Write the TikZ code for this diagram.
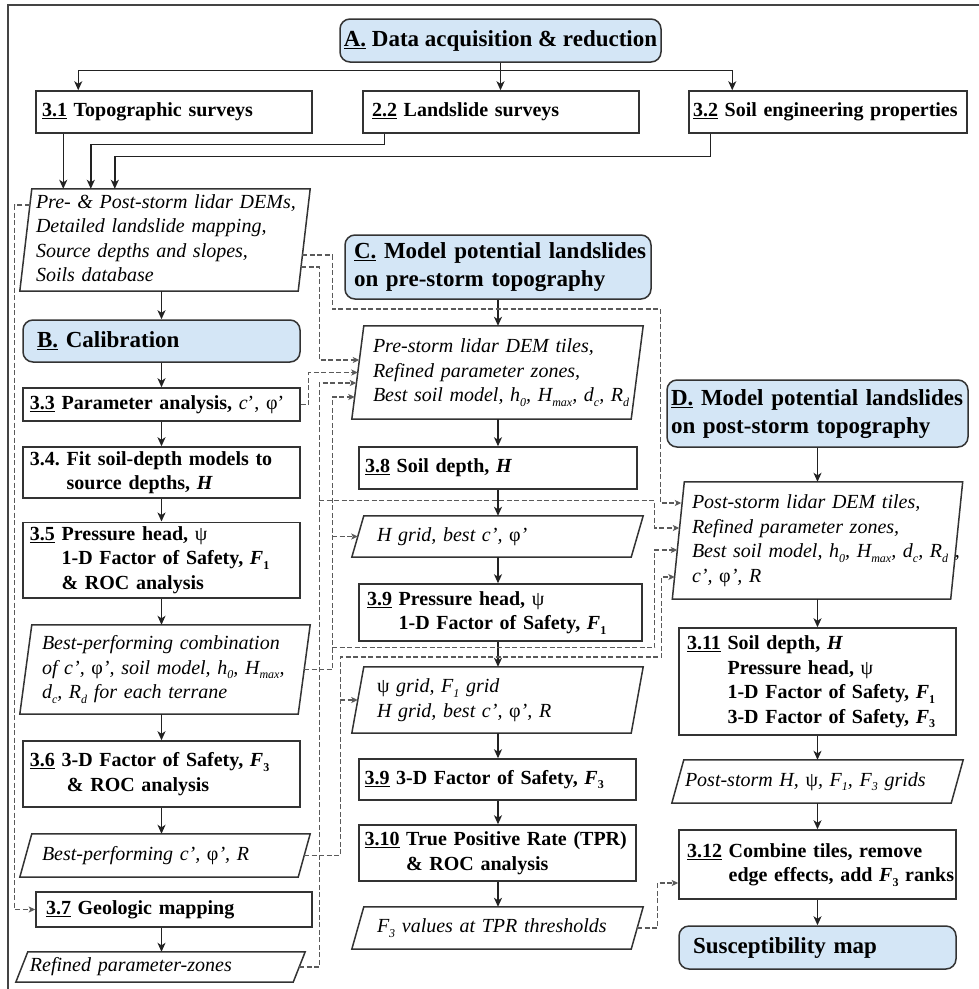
\documentclass[tikz,border=0pt]{standalone}
\usepackage{fontspec}
\setmainfont{Liberation Serif}
\usepackage{tikz}
\usetikzlibrary{positioning,arrows.meta,calc}
\definecolor{lsLine}{HTML}{333333}
\definecolor{lsArrow}{HTML}{222222}
\definecolor{lsDash}{HTML}{5A5A5A}
\definecolor{lsBlueL}{HTML}{D4E6F6}
\definecolor{lsFrame}{HTML}{444444}
\newcommand{\lsbody}{\fontsize{20}{24.5}\selectfont}
\newcommand{\lshead}{\fontsize{23}{28}\selectfont}
\newcommand{\lsrows}[1]{\begin{tabular}{@{}l@{}}#1\end{tabular}}
\newcommand{\lo}[1]{\raisebox{-4.5pt}{\fontsize{12}{12}\selectfont #1}}
\frenchspacing
\tikzset{
  ls-box/.style={
    draw=lsLine, line width=1.5pt, fill=white, font=\lsbody\bfseries,
    align=left, inner xsep=2pt, inner ysep=1pt
  },
  ls-head/.style={ls-box, rounded corners=10pt, fill=lsBlueL, font=\lshead\bfseries},
  ls-io/.style={font=\lsbody\itshape, align=left, inner xsep=2pt, inner ysep=1pt},
  ls-edge/.style={draw=lsLine, line width=1.5pt, line join=miter},
  ls-flow/.style={-{Stealth[length=9pt,width=8pt,inset=2.5pt]}, line width=1.4pt, draw=lsArrow},
  ls-feed/.style={-{Stealth[length=6.5pt,width=6pt,inset=1.5pt]}, line width=1.1pt,
    draw=lsDash, dash pattern=on 5pt off 2.5pt},
  ls-frame/.style={draw=lsFrame, line width=1.5pt}
}
\begin{document}
\begin{tikzpicture}[x=1pt, y=-1pt]
\useasboundingbox (0,0) rectangle (979,989);
\draw[ls-frame] (8,5) rectangle (995,1005);

\node[ls-head, minimum width=321pt, minimum height=43pt, align=center] (A) at (500.5,40.5)
  {\underline{A.} Data acquisition \& reduction};
\node[ls-box, minimum width=276pt, minimum height=42pt, text width=264pt] (s31) at (174,112)
  {\underline{3.1} Topographic surveys};
\node[ls-box, minimum width=276pt, minimum height=42pt, text width=258pt] (s22) at (501,112)
  {\underline{2.2} Landslide surveys};
\node[ls-box, minimum width=278pt, minimum height=42pt, text width=270pt] (s32) at (828,112)
  {\lsrows{\underline{3.2} Soil engineering properties}};

\node[ls-io, minimum width=278pt, minimum height=102pt, text width=258pt] (data) at (165,240)
  {\lsrows{Pre- \& Post-storm lidar DEMs,\\ Detailed landslide mapping,\\
  Source depths and slopes,\\ Soils database}};
\node[ls-head, minimum width=277pt, minimum height=42pt, text width=249pt] (B) at (161.5,341)
  {\underline{B.} Calibration};
\node[ls-box, minimum width=277pt, minimum height=33pt, text width=263pt] (s33) at (161.5,404.5)
  {\lsrows{\underline{3.3} Parameter analysis, \textmd{\textit{c}’, φ’}}};
\node[ls-box, minimum width=277pt, minimum height=51pt, text width=263pt] (s34) at (161.5,472.5)
  {\lsrows{3.4. Fit soil-depth models to\\ \hphantom{3.4. }source depths, \textit{H}}};
\node[ls-box, minimum width=277pt, minimum height=74pt, text width=263pt] (s35) at (161.5,560)
  {\lsrows{\underline{3.5} Pressure head, \textmd{ψ}\\
  \hphantom{3.5 }1-D Factor of Safety, \textit{F}\lo{1}\\
  \hphantom{3.5 }\& ROC analysis}};
\node[ls-io, minimum width=278pt, minimum height=89pt, text width=246pt] (combo) at (165,669.5)
  {\lsrows{Best-performing combination\\ of c’, \textup{φ}’, soil model, h\lo{0}, H\lo{max},\\
  d\lo{c}, R\lo{d} for each terrane}};
\node[ls-box, minimum width=277pt, minimum height=66pt, text width=263pt] (s36) at (161.5,774)
  {\lsrows{\underline{3.6} 3-D Factor of Safety, \textit{F}\lo{3}\\ \hspace*{37pt}\& ROC analysis}};
\node[ls-io, minimum width=278pt, minimum height=43pt, text width=246pt] (bestc) at (165,855.5)
  {Best-performing c’, \textup{φ}’, R};
\node[ls-box, minimum width=276pt, minimum height=35pt, text width=256pt] (s37) at (174,909.5)
  {\underline{3.7} Geologic mapping};
\node[ls-io, minimum width=277pt, minimum height=30pt, text width=261pt] (zones) at (160.5,967)
  {Refined parameter-zones};

\node[ls-head, minimum width=306pt, minimum height=64pt, text width=288pt] (C) at (498,267)
  {\lsrows{\underline{C.} Model potential landslides\\ on pre-storm topography}};
\node[ls-io, minimum width=279pt, minimum height=93pt, text width=249pt] (prein) at (497.5,372.5)
  {\lsrows{Pre-storm lidar DEM tiles,\\ Refined parameter zones,\\
  Best soil model, h\lo{0}, H\lo{max}, d\lo{c}, R\lo{d}}};
\node[ls-box, minimum width=278pt, minimum height=42pt, text width=266pt] (s38) at (498,468)
  {\underline{3.8} Soil depth, \textit{H}};
\node[ls-io, minimum width=279pt, minimum height=41pt, text width=241pt] (hgrid) at (497.5,536.5)
  {H grid, best c’, \textup{φ}’};
\node[ls-box, minimum width=283pt, minimum height=57pt, text width=267pt] (s39) at (500.5,612.5)
  {\lsrows{\underline{3.9} Pressure head, \textmd{ψ}\\ \hphantom{3.9 }1-D Factor of Safety, \textit{F}\lo{1}}};
\node[ls-io, minimum width=279pt, minimum height=66pt, text width=241pt] (psigrid) at (497.5,700)
  {\lsrows{\textup{ψ} grid, F\lo{1} grid\\ H grid, best c’, \textup{φ}’, R}};
\node[ls-box, minimum width=277pt, minimum height=41pt, text width=266pt] (s39b) at (497.5,779.5)
  {\underline{3.9} 3-D Factor of Safety, \textit{F}\lo{3}};
\node[ls-box, minimum width=277pt, minimum height=56pt, text width=266pt] (s310) at (497.5,853)
  {\lsrows{\underline{3.10} True Positive Rate (TPR)\\ \hphantom{3.10 }\& ROC analysis}};
\node[ls-io, minimum width=279pt, minimum height=42pt, text width=241pt] (f3val) at (497.5,928)
  {F\lo{3} values at TPR thresholds};

\node[ls-head, minimum width=301pt, minimum height=67pt, text width=293pt] (D) at (817.5,413.5)
  {\lsrows{\underline{D.} Model potential landslides\\ on post-storm topography}};
\node[ls-io, minimum width=278pt, minimum height=117pt, text width=251pt] (postin) at (817.5,540.5)
  {\lsrows{Post-storm lidar DEM tiles,\\ Refined parameter zones,\\
  Best soil model, h\lo{0}, H\lo{max}, d\lo{c}, R\lo{d} ,\\
  c’, \textup{φ}’, R}};
\node[ls-box, minimum width=277pt, minimum height=107pt, text width=261pt] (s311) at (817.5,681.5)
  {\lsrows{\underline{3.11} Soil depth, \textit{H}\\ \hphantom{3.11 }Pressure head, \textmd{ψ}\\
  \hphantom{3.11 }1-D Factor of Safety, \textit{F}\lo{1}\\
  \hphantom{3.11 }3-D Factor of Safety, \textit{F}\lo{3}}};
\node[ls-io, minimum width=279pt, minimum height=43pt, text width=265pt] (grids) at (817.5,781.5)
  {\lsrows{Post-storm H, \textup{ψ}, F\lo{1}, F\lo{3} grids}};
\node[ls-box, minimum width=277pt, minimum height=69pt, text width=261pt] (s312) at (817.5,864.5)
  {\lsrows{\underline{3.12} Combine tiles, remove\\ \hphantom{3.12 }edge effects, add \textit{F}\lo{3} ranks}};
\node[ls-head, minimum width=277pt, minimum height=43pt, text width=249pt] (smap) at (817.5,947.5)
  {Susceptibility map};

\foreach \n in {data,combo,bestc,zones,prein,hgrid,psigrid,f3val,postin,grids}
  \draw[ls-edge] ([xshift=6pt]\n.north west) -- ([xshift=6pt]\n.north east)
    -- ([xshift=-6pt]\n.south east) -- ([xshift=-6pt]\n.south west) -- cycle;

\draw[ls-flow] (A.south) -- (A.south |- s22.north);
\draw[ls-flow] ([yshift=-8pt]A.south) -| ([xshift=43pt]s31.north west);
\draw[ls-flow] ([yshift=-8pt]A.south) -| ([xshift=44pt]s32.north west);
\draw[ls-flow] ([xshift=28pt]s31.south west) -- ([xshift=28pt]s31.south west |- data.north);
\draw[ls-flow] ([xshift=22pt]s22.south west) -- ++(0,11) -| ([xshift=65pt]data.north west);
\draw[ls-flow] ([xshift=22pt]s32.south west) -- ++(0,23) -| ([xshift=89pt]data.north west);
\draw[ls-flow] (B.north |- data.south) -- (B.north);
\foreach \a/\b in {B/s33,s33/s34,s34/s35,s35/combo,combo/s36,s36/bestc,s37/zones}
  \draw[ls-flow] (B.south |- \a.south) -- (B.south |- \b.north);
\foreach \a/\b in {C/prein,prein/s38,s38/hgrid,hgrid/s39,s39/psigrid,psigrid/s39b,s39b/s310,s310/f3val}
  \draw[ls-flow] (C.south |- \a.south) -- (C.south |- \b.north);
\foreach \a/\b in {D/postin,postin/s311,s311/grids,grids/s312,s312/smap}
  \draw[ls-flow] (D.south |- \a.south) -- (D.south |- \b.north);

\draw[ls-feed] ([xshift=4pt,yshift=35pt]data.west) -- ++(-15,0) |- (s37.west);
\draw[ls-feed] ([xshift=-2pt,yshift=-15pt]data.east) -- ++(30,0) -- ++(0,54)
  -| ([xshift=-18pt,yshift=37.5pt]postin.west) -- ([xshift=3pt,yshift=37.5pt]postin.west);
\draw[ls-feed] ([xshift=-3pt,yshift=-27pt]data.east) -- ++(18,0)
  |- ([xshift=1.5pt,yshift=12.5pt]prein.west);
\draw[ls-feed] (s33.east) -- ++(8,0) |- (prein.west);
\draw[ls-feed] (zones.east) -- ++(20,0) coordinate (laneZ)
  |- ([xshift=-1.5pt,yshift=-10.5pt]prein.west);
\draw[ls-feed] ([yshift=-11pt]laneZ |- s38.south) -| ([xshift=-23.5pt,yshift=12.5pt]postin.west)
  -- ([xshift=1pt,yshift=12.5pt]postin.west);
\draw[ls-feed] (combo.east) -- ++(28,0) coordinate (laneB)
  |- ([xshift=-3pt,yshift=-24.5pt]prein.west);
\draw[ls-feed] (laneB |- hgrid.west) -- (hgrid.west);
\draw[ls-feed] ([yshift=-6pt]laneB |- s39.south) -| ([xshift=-23.5pt,yshift=-9.5pt]postin.west)
  -- ([xshift=-1pt,yshift=-9.5pt]postin.west);
\draw[ls-feed] (bestc.east) -- ++(36,0) coordinate (laneC) -- ++(0,-198.5)
  -| ([xshift=-16.5pt,yshift=-36.5pt]postin.west) -- ([xshift=-3.5pt,yshift=-36.5pt]postin.west);
\draw[ls-feed] (laneC |- psigrid.west) -- (psigrid.west);
\draw[ls-feed] (f3val.east) -- ++(20,0) |- ([yshift=-18.5pt]s312.west);
\end{tikzpicture}
\end{document}
